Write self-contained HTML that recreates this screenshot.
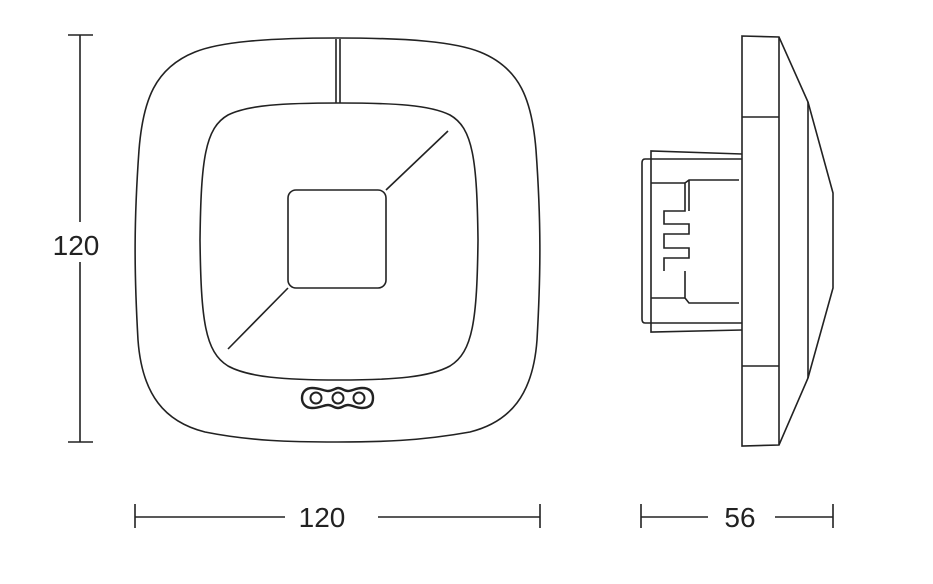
<!DOCTYPE html>
<html><head><style>
html,body{margin:0;padding:0;background:#fff;}
svg{display:block;}
text{font-family:"Liberation Sans",sans-serif;font-size:28px;fill:#222;}
</style></head><body>
<svg width="933" height="584" viewBox="0 0 933 584" xmlns="http://www.w3.org/2000/svg">
<g fill="none" stroke="#222" stroke-width="1.6">
<!-- front view -->
<path d="M337 38 C410 38 455 42 480 52 C520 68 532 100 536 150 C541 220 541 270 537 340 C533 395 510 422 470 432 C420 441 380 442 337 442 C290 442 250 441 205 432 C165 422 142 395 138 340 C134 270 134 220 139 150 C143 100 155 68 195 52 C220 42 265 38 337 38 Z"/>
<path d="M339 103 C395 103 430 105 450 115 C473 128 477 160 478 240 C477 320 473 352 450 366 C430 377 395 380 339 380 C283 380 248 377 228 366 C205 352 201 320 200 240 C201 160 205 128 228 115 C248 105 283 103 339 103 Z"/>
<rect x="288" y="190" width="98" height="98" rx="8"/>
<line x1="336" y1="39" x2="336" y2="103"/>
<line x1="340" y1="39" x2="340" y2="103"/>
<line x1="386" y1="190" x2="448" y2="131"/>
<line x1="288" y1="288" x2="228" y2="349"/>
<path d="M312 388 C320 388 324 391 328 391 C332 391 336 388 338 388 C342 388 344 391 348 391 C352 391 356 388 362 388 C370 388 373 392 373 398 C373 404 370 408 362 408 C356 408 352 405 348 405 C344 405 342 408 338 408 C334 408 332 405 328 405 C324 405 320 408 312 408 C306 408 302 404 302 398 C302 392 306 388 312 388 Z" stroke-width="2.4"/>
<circle cx="316" cy="398" r="5.5" stroke-width="2"/>
<circle cx="338" cy="398" r="5.5" stroke-width="2"/>
<circle cx="359" cy="398" r="5.5" stroke-width="2"/>
<!-- side view -->
<path d="M742 36 L779 37 L808 102 L833 193 L833 288 L808 378 L779 445 L742 446 Z"/>
<line x1="779" y1="37" x2="779" y2="445"/>
<line x1="742" y1="117" x2="779" y2="117"/>
<line x1="742" y1="366" x2="779" y2="366"/>
<line x1="808" y1="102" x2="808" y2="378"/>
<path d="M742 154 L651 151 L651 332 L742 330"/>
<path d="M742 159 L645 159 Q642 159 642 163 L642 319 Q642 323 645 323 L742 323"/>
<line x1="651" y1="183" x2="685" y2="183"/>
<line x1="651" y1="298" x2="685" y2="298"/>
<path d="M739 180 L689 180 L685 183 L685 211 L664 211 L664 224 L689 224 L689 234 L664 234 L664 248 L689 248 L689 258 L664 258 L664 271"/>
<path d="M689 180 L689 211 M685 271 L685 298 L689 303 L739 303"/>
<!-- dimensions -->
<line x1="80" y1="35" x2="80" y2="442"/>
<line x1="68" y1="35" x2="93" y2="35"/>
<line x1="68" y1="442" x2="93" y2="442"/>
<line x1="135" y1="517" x2="285" y2="517"/>
<line x1="378" y1="517" x2="540" y2="517"/>
<line x1="135" y1="504" x2="135" y2="528"/>
<line x1="540" y1="504" x2="540" y2="528"/>
<line x1="641" y1="517" x2="708" y2="517"/>
<line x1="775" y1="517" x2="833" y2="517"/>
<line x1="641" y1="504" x2="641" y2="528"/>
<line x1="833" y1="504" x2="833" y2="528"/>
</g>
<rect x="50" y="222" width="60" height="40" fill="#fff"/>
<text x="76" y="255" text-anchor="middle">120</text>
<text x="322" y="527" text-anchor="middle">120</text>
<text x="740" y="527" text-anchor="middle">56</text>
</svg>
</body></html>
